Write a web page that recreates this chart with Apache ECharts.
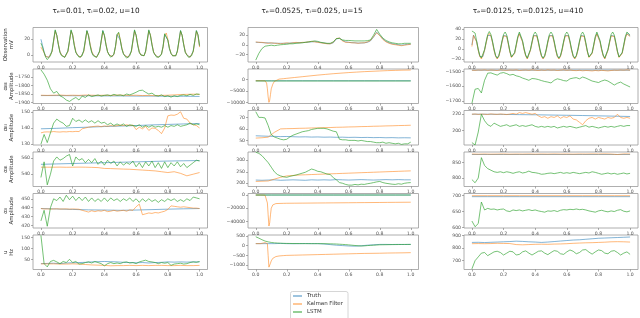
<!DOCTYPE html>
<html><head><meta charset="utf-8">
<script src="https://cdn.jsdelivr.net/npm/echarts@6/dist/echarts.min.js"></script>
<style>html,body{margin:0;padding:0;background:#fff}#c{width:640px;height:318px}</style>
</head><body><div id="c"></div><script>
// ---------------- data ----------------
const xTicks = [0, 0.2, 0.4, 0.6, 0.8, 1.0];
const seriesNames = ['Truth', 'Kalman Filter', 'LSTM'];
const colTitles = ['τₑ=0.01, τᵢ=0.02, u=10', 'τₑ=0.0525, τᵢ=0.025, u=15', 'τₑ=0.0125, τᵢ=0.0125, u=410'];
const rowLabels = ['{a|Observation}\n{a|mV}', '{g|α}{s|EE}\n{a|Amplitude}', '{g|α}{s|EI}\n{a|Amplitude}', '{g|α}{s|IE}\n{a|Amplitude}', '{g|α}{s|II}\n{a|Amplitude}', '{a|u}\n{a|Hz}'];
// sample times for the sharp dip in the Kalman Filter estimates (column 2)
const tDip = [0,0.03,0.06,0.07,0.075,0.08,0.085,0.09,0.095,0.1,0.11,0.12,0.13,0.15,0.18,0.2,0.25,0.3,0.35,0.4,0.45,0.5,0.55,0.6,0.65,0.7,0.75,0.8,0.85,0.9,0.95,1.0];

// column 1
const c1r1T = [20,12,4,-2,-4, -3,-1,5,18,31,25,13,4,0,-2, -3,-1,5,18,31,25,13,4,0,-2, -3,-1,5,18,31,25,13,4,0,-2, -3,-1,5,18,31,25,13,4,0,-2, -2,1,11,26,28,19,8,2,-1,-3, -3,-1,5,18,31,25,13,4,0,-2, -1,5,18,31,25,13,4,0,-2,-3, -2,1,11,26,28,19,8,2,-1,-3, -1,5,18,31,25,13,4,0,-2, -3,-1,5,18,31,25,11];
const c1r1K = [10,8,3,-2,-4, -3,-1,4,17,30,25,14,4,0,-2, -3,-1,4,17,30,26,14,4,0,-2, -3,-1,4,17,30,25,14,5,0,-2, -3,-1,4,17,29,25,14,4,0,-2, -2,1,10,25,28,20,9,2,-1,-3, -3,-1,4,17,30,25,14,4,0,-2, -1,4,17,30,26,14,4,0,-2,-3, -2,1,10,25,28,20,9,2,-1,-3, -1,4,17,30,25,14,4,0,-2, -3,-1,4,17,30,25,10];
const c1r1L = [15,10,3,-3,-6, -4,-1,5,19,32,25,13,3,-1,-3, -3,-1,5,18,32,25,12,3,0,-3, -3,-1,6,19,31,24,12,3,-1,-3, -3,0,5,18,31,25,13,4,0,-3, -2,1,11,26,29,19,8,1,-1,-4, -3,-1,5,19,32,25,12,3,0,-2, -1,5,19,32,25,13,3,0,-3,-4, -2,1,11,27,29,19,8,2,-1,-3, -1,5,18,31,25,13,3,0,-3, -4,-1,5,18,31,26,12];

const c1r2T = [-1859,-1859,-1860,-1860,-1861,-1861,-1862,-1862,-1863,-1863,-1864];
const c1r2K = [-1857,-1858,-1857,-1856,-1858,-1857,-1858,-1856,-1857,-1858,-1857,-1858,-1856,-1857,-1858,-1857,-1859,-1858,-1860,-1858,-1857,-1855,-1853,-1852,-1851,-1852];
const c1r2L = [-1710,-1735,-1770,-1820,-1845,-1835,-1860,-1870,-1885,-1893,-1880,-1870,-1885,-1862,-1870,-1855,-1865,-1860,-1855,-1862,-1858,-1855,-1860,-1852,-1858,-1855,-1860,-1850,-1855,-1848,-1840,-1830,-1828,-1840,-1850,-1845,-1858,-1862,-1855,-1865,-1860,-1868,-1860,-1865,-1858,-1855,-1860,-1852,-1858,-1850,-1852];

const c1r3T = [139.5,139.8,140.2,140.5,140.9,141.2,141.5,141.9,142.2,142.5,142.8];
const c1r3K = [137,137.5,137.6,137.5,137.8,137.6,137.5,137.7,137.6,137.8,137.7,137.9,137.8,139.5,140,140.5,140.8,141,141.2,140.8,141.3,141,141.5,141.2,141.4,141.8,141.5,142,141.5,141.8,139,140.5,139.5,141,138.5,140,139.8,138.5,136.5,140,147.5,148,147.8,148.5,150,146,145.5,143,142,141.5,140];
const c1r3L = [130,136,131,137,143,145.5,144,143,141,141.5,146,144,145,143.5,145,143.5,144.5,143,144.5,143,143.5,142,143,141.5,142.5,141.5,142.5,141,142,141.5,141,142,140.5,141.5,140.5,141.5,140.5,141,140.5,141.5,140.5,141.5,141,142,141,141.5,142,143,142,142.5,142];

const c1r4T = [552,552.5,553,553.5,554,554.5,555,555.5,556,556.3,556.6];
const c1r4K = [548.5,548.5,548.5,548.6,548.4,548.5,548.6,548.5,548.3,548,547,546.8,546.5,546.2,546,545.5,545,544.5,544,543,542,543,541,538,540,542];
const c1r4L = [536,555,527,540,556,561,557,559,562,564,550,561,557,559,554,558,554,559,552,556,551,557,553,556,550,555,551,554,552,556,549,554,548,555,550,556,548,554,547,555,548,554,550,555,549,553,548,551,554,557,556];

const c1r5T = [439,438.5,438,437.5,437.3,437,437.3,437.8,438.3,438.7,439];
const c1r5K = [439,438.5,438.6,438.4,438.5,438.7,438.4,438.5,438.6,438.3,438.5,438.4,438.2,437,436,435,436.5,435.5,436.5,436,437,435.5,436,437,436,436.5,437,436,437.5,437,441,444,432,433,434,433.5,434.5,434,435,436,438,442,441.5,441,440.5,441,440.5,440,439.5,439.5,439];
const c1r5L = [425,437,419,440,450,448,452,447,454,449,453,448,452,448,452,447,451,447,450,447,451,447,451,448,450,447,450,448,451,447,450,446,450,447,450,447,449,446,449,447,450,448,450,447,449,447,450,448,452,451,450];

const c1r6T = [30,31,32,30,33,34,35,36,38,39,40,39,38,36,35,34,35,33,35,36,38,37,38,37,38,38];
const c1r6K = [29,29,29,28,28,29,28,26,24,23,22,20,21,21,22,21,22,21,22,22,21,21,22,21,21,22];
const c1r6L = [160,30,15,40,45,38,30,40,35,50,35,40,28,30,35,38,33,40,35,30,20,30,35,30,33,30,36,38,33,35,30,38,42,46,40,38,35,30,35,32,35,22,28,30,32,28,30,35,38,36,40];

// column 2
const c2r1T = [5,5,4.5,4,4,3.5,3.5,3,3,3,3,3.5,4,4,4.5,4.5,5,5.5,6,6.5,5.5,4.5,3.5,2.5,2,4,12,14,9,6,5,4.5,4,3.5,3.5,4,5,8,16,26,20,12,7,4,2,1,0,-1,0,1,1];
const c2r1K = [6,5,5,4,3,4,3,3,2,3,4,3,4,5,4,5,5,6,7,6,5,4,3,2,2,5,13,14,8,5,5,4,4,3,4,4,6,9,17,25,19,11,6,3,1,0,-1,-2,-1,0,1];
const c2r1L = [-32,-18,-8,-3,-2,-1,-2,-1,0,0.5,1,2,2,3,3.5,4,5,6,7,8,7,5,4,3,3,6,13,13,10,9,9,8.5,8,8,8,8,8.5,10,20,32,22,14,9,6,4,3,2,2,3,3,3];

const c2r2T = [-520,-520,-520,-520,-520,-520,-520,-520,-520,-520,-520];
const c2r2K = [-500,-500,-550,-1500,-4000,-7500,-9900,-9000,-6500,-4000,-2000,-800,-200,200,400,550,900,1250,1600,1950,2250,2550,2800,3050,3250,3450,3600,3750,3900,4000,4100,4150];
const c2r2L = [-600,-600,-600,-600,-600,-600,-600,-600,-600,-600,-600];

const c2r3T = [54,53.8,53.6,53.5,53.3,53.4,53.2,53,53.1,52.9,53,52.8,52.9,52.7,52.8,52.6,52.7,52.5,52.6,52.4,52.5,52.3,52.4,52.2,52.3,52.2];
const c2r3K = [52,52.3,52.8,57,60,60.2,60.3,60.5,60.6,60.8,60.9,61.1,61.2,61.4,61.5,61.7,61.8,62,62.1,62.3,62.4,62.6,62.7,62.9,63,63.2];
const c2r3L = [75,70,70,69.5,63,55,53,52,51,50.5,51,53,54.5,55.5,56.5,57.5,58,58.5,59.5,60,60.5,60.5,60.5,60,59,58,57.5,51,50.5,50.5,50,50,50,49.5,50,49.5,49,49,48.5,48,48,48.5,47.5,48,47.5,47,47.5,46.5,47,47,48.5];

const c2r4T = [214,213,214,215,213,214,215,214,213,215,214,215,214,216,215,214,215,216,215,214,215,216,215,216,215,215];
const c2r4K = [208,209,210,218,226,232,234,236,237,238,239,240,241,242,243,244,245,246,247,248,249,250,251,252,253,254];
const c2r4L = [335,330,320,305,290,270,250,238,232,228,226,230,233,236,240,244,248,255,262,258,252,250,245,240,238,225,215,203,200,195,192,192,195,193,196,195,198,200,203,206,208,203,200,198,196,195,198,196,200,202,203];

const c2r5T = [0,0,0,0,0,0,0,0,0,0,0];
const c2r5K = [0,0,-200,-3000,-12000,-30000,-47000,-42000,-30000,-20000,-15000,-13500,-13000,-12800,-12600,-12500,-12400,-12300,-12200,-12100,-12000,-11900,-11800,-11700,-11600,-11500,-11400,-11300,-11200,-11100,-11000,-10900];
const c2r5L = [0,0,0,0,0,0,0,0,0,0,0];

const c2r6T = [100,100,100,100,110,100,95,100,105,100,100,80,50,20,0,-20,-30,-10,20,40,60,60,55,60,55,60];
const c2r6K = [100,100,150,200,100,-500,-1100,-1050,-900,-780,-650,-600,-560,-530,-510,-500,-490,-480,-470,-460,-450,-440,-430,-420,-410,-400,-395,-390,-380,-375,-370,-360];
const c2r6L = [450,380,300,230,190,160,140,130,120,115,110,108,105,104,102,101,100,100,100,99,100,100,98,95,90,85,80,70,60,50,35,20,5,-10,-20,-15,0,10,20,30,40,42,45,48,50,52,54,56,58,59,60];

// column 3
const c3r1T = [8,28,30,15,-2,-15,-19,-15,-2,13,27, 31,27,14,-2,-14,-19,-14,-2,14,27, 31,26,11,-5,-16,-18,-8,7,23,31, 28,15,-1,-13,-19,-15,-2,13,27,31, 27,14,-2,-14,-19,-14,-2,14,27,31, 27,14,-2,-14,-19,-14,-2,14,27,31, 27,14,-2,-14,-19,-14,-2,14,27,31, 26,11,-5,-16,-18,-8,7,23,31, 28,15,-1,-13,-19,-15,-2,13,27,31, 26,11,-5,-16,-18,-8,7,23,31, 30,26];
const c3r1K = [5,27,29,14,-3,-15,-20,-16,-3,12,26, 31,26,13,-3,-15,-20,-15,-3,13,26, 30,25,10,-6,-17,-19,-9,6,22,30, 27,14,-2,-14,-20,-16,-3,12,26,30, 26,13,-3,-15,-20,-15,-3,13,26,30, 26,13,-3,-15,-20,-15,-3,13,26,30, 26,13,-3,-15,-20,-15,-3,13,26,30, 25,10,-6,-17,-19,-9,6,22,30, 27,14,-2,-14,-20,-16,-3,12,26,30, 25,10,-6,-17,-19,-9,6,22,30, 29,25];
const c3r1L = [36,39,32,16,0,-13,-18,-14,-1,15,29, 35,29,16,0,-13,-18,-13,0,16,29, 34,28,13,-4,-16,-17,-7,9,25,34, 30,17,1,-12,-18,-14,-1,15,29,34, 29,16,0,-13,-18,-13,0,16,29,34, 29,16,0,-13,-18,-13,0,16,29,34, 29,16,0,-13,-18,-13,0,16,29,34, 28,13,-4,-16,-17,-7,9,25,34, 30,17,1,-12,-18,-14,-1,15,29,34, 28,13,-4,-16,-17,-7,9,25,34, 33,28];

const c3r2T = [-1492,-1492,-1492,-1492,-1492,-1492,-1492,-1492,-1492,-1492,-1492];
const c3r2K = [-1492,-1493,-1491,-1492,-1490,-1493,-1491,-1492,-1494,-1490,-1492,-1493,-1491,-1492,-1490,-1494,-1492,-1491,-1493,-1490,-1492,-1494,-1491,-1493,-1490,-1492,-1491,-1494,-1492,-1490,-1493,-1491,-1494,-1495,-1493,-1496,-1494,-1495,-1497,-1494,-1496,-1493,-1495,-1497,-1494,-1492,-1493,-1491,-1492,-1490,-1492];
const c3r2L = [-1715,-1620,-1615,-1645,-1560,-1512,-1510,-1518,-1525,-1512,-1508,-1515,-1525,-1520,-1530,-1535,-1545,-1552,-1560,-1548,-1550,-1555,-1562,-1568,-1572,-1578,-1560,-1550,-1555,-1562,-1565,-1550,-1545,-1542,-1550,-1538,-1545,-1555,-1565,-1570,-1575,-1565,-1558,-1565,-1578,-1592,-1580,-1572,-1585,-1595,-1605];

const c3r3T = [220,220,219.8,219.5,219.3,219,218.7,218.4,218,217.6,217.2];
const c3r3K = [220,220.3,219.8,220.2,220,219.7,220.4,220,219.8,220.3,220,219.6,220.2,221,220,222,221,222,221,220,221,218,216,217,215,217,216,218,215,217,216,218,214,213,210,207,212,215,216,214,216,215,214,216,215,216,220,216,215,216,215];
const c3r3L = [185,182,198,220,212,207,205,209,207,205,206,207,205,206,207,205,206,205,206,207,205,204,205,204,205,204,205,203,204,205,204,205,204,203,204,205,206,204,205,204,203,204,205,204,205,204,205,206,205,206,206];

const c3r4T = [875,875,875,875,875,875,875,875,875,875,875];
const c3r4K = [876.5,876,876.5,876,876.3,876.6,876,876.4,876.2,876.6,876,876.5,876.2,876.7,876.3,876.5,876.1,876.6,876.4,876.8,876.5,876.9,876.4,875,876.8,876.6];
const c3r4L = [795,785,800,865,840,830,825,820,818,820,817,820,818,815,818,820,816,818,822,818,817,815,812,813,815,816,814,816,818,815,817,815,818,816,814,816,818,816,820,818,815,812,814,816,813,815,812,814,816,813,815];

const c3r5T = [697,697,697,697,697,697,697,697,697,697,697];
const c3r5K = [700,700,700,700,700,700,700,700,700,700,700];
const c3r5L = [620,602,612,680,655,660,657,658,655,657,658,652,650,655,653,655,652,654,656,653,655,652,650,648,652,651,653,650,654,656,655,657,656,658,656,657,655,652,650,648,652,654,651,649,652,650,654,656,651,649,652];

const c3r6T = [845,846,844,846,848,850,852,855,853,850,848,845,848,852,856,860,864,866,870,874,878,880,882,884,886,888];
const c3r6K = [835,836,835,836,838,837,836,828,826,828,830,831,830,832,833,835,838,840,842,843,845,847,850,851,850,848];
const c3r6L = [635,700,730,760,765,740,755,770,775,765,745,760,775,770,745,750,770,778,760,745,760,775,778,760,748,765,780,775,755,750,770,785,775,755,765,785,788,768,752,770,785,780,760,755,775,780,765,745,760,770,750];

// y-axis ranges and tick labels per panel
const panels = [
  {c:0,r:0,T:c1r1T,K:c1r1K,L:c1r1L,min:-9,max:35,ticks:[0,20]},
  {c:0,r:1,T:c1r2T,K:c1r2K,L:c1r2L,min:-1905,max:-1705,ticks:[-1900,-1850,-1800,-1750]},
  {c:0,r:2,T:c1r3T,K:c1r3K,L:c1r3L,min:129.5,max:150.8,ticks:[130,140,150]},
  {c:0,r:3,T:c1r4T,K:c1r4K,L:c1r4L,min:525,max:567,ticks:[540,560]},
  {c:0,r:4,T:c1r5T,K:c1r5K,L:c1r5L,min:417,max:456,ticks:[420,430,440,450]},
  {c:0,r:5,T:c1r6T,K:c1r6K,L:c1r6L,min:3,max:162,ticks:[50,100,150]},
  {c:1,r:0,T:c2r1T,K:c2r1K,L:c2r1L,min:-36,max:36,ticks:[-20,0,20]},
  {c:1,r:1,T:c2r2T,K:c2r2K,Kx:tDip,L:c2r2L,min:-10400,max:4600,ticks:[-10000,-5000,0]},
  {c:1,r:2,T:c2r3T,K:c2r3K,L:c2r3L,min:46,max:76,ticks:[50,60,70]},
  {c:1,r:3,T:c2r4T,K:c2r4K,L:c2r4L,min:186,max:336,ticks:[200,250,300]},
  {c:1,r:4,T:c2r5T,K:c2r5K,Kx:tDip,L:c2r5L,min:-50000,max:2300,ticks:[-40000,-20000,0]},
  {c:1,r:5,T:c2r6T,K:c2r6K,Kx:tDip,L:c2r6L,min:-1220,max:540,ticks:[-1000,-500,0,500]},
  {c:2,r:0,T:c3r1T,K:c3r1K,L:c3r1L,min:-26,max:43,ticks:[-20,0,20,40]},
  {c:2,r:1,T:c3r2T,K:c3r2K,L:c3r2L,min:-1716,max:-1484,ticks:[-1700,-1600,-1500]},
  {c:2,r:2,T:c3r3T,K:c3r3K,L:c3r3L,min:182,max:224.6,ticks:[200,220]},
  {c:2,r:3,T:c3r4T,K:c3r4K,L:c3r4L,min:773,max:883,ticks:[800,850]},
  {c:2,r:4,T:c3r5T,K:c3r5K,L:c3r5L,min:598,max:707,ticks:[600,650,700]},
  {c:2,r:5,T:c3r6T,K:c3r6K,L:c3r6L,min:630,max:904,ticks:[700,800,900]}
];

// ---------------- layout & style ----------------
const colL = [33, 248, 464], colW = [174.5, 170.5, 174];
const rowT = [27.5, 69, 110.5, 152, 193.5, 235], rowH = 34.5;
const titleX = [96, 312, 528];
const colors = ['rgba(31,119,180,0.62)', 'rgba(255,127,14,0.62)', 'rgba(44,160,44,0.72)'];
const FONT = 'DejaVu Sans';
const fmt = v => String(v).replace('-', '\u2212');

const grid = [], xAxis = [], yAxis = [], series = [];
panels.forEach((p, i) => {
  grid.push({left: colL[p.c], top: rowT[p.r], width: colW[p.c], height: rowH,
    show: true, borderColor: '#9a9a9a', borderWidth: 0.8, backgroundColor: 'transparent'});
  xAxis.push({type: 'value', gridIndex: i, min: -0.05, max: 1.05, position: 'bottom',
    axisLine: {show: false, onZero: false}, splitLine: {show: false},
    axisTick: {show: true, length: 2, customValues: xTicks, lineStyle: {color: '#777', width: 0.6}},
    axisLabel: {customValues: xTicks, fontSize: 4.6, color: '#555', margin: 3, fontFamily: FONT,
      formatter: v => v.toFixed(1)}});
  yAxis.push({type: 'value', gridIndex: i, min: p.min, max: p.max, position: 'left',
    axisLine: {show: false, onZero: false}, splitLine: {show: false},
    axisTick: {show: true, length: 2, customValues: p.ticks, lineStyle: {color: '#777', width: 0.6}},
    axisLabel: {customValues: p.ticks, fontSize: 4.6, color: '#555', margin: 3, fontFamily: FONT, formatter: fmt}});
  [[p.T, p.Tx], [p.K, p.Kx], [p.L, p.Lx]].forEach((d, k) => {
    const ys = d[0], xs = d[1];
    series.push({type: 'line', name: seriesNames[k], xAxisIndex: i, yAxisIndex: i,
      showSymbol: false, symbol: 'none', silent: true,
      lineStyle: {width: 0.9, color: colors[k]}, itemStyle: {color: colors[k]},
      data: ys.map((v, j) => [xs ? xs[j] : j / (ys.length - 1), v])});
  });
});

const title = colTitles.map((t, c) => ({text: t, left: titleX[c], top: 8, textAlign: 'center', padding: 0,
  textStyle: {fontSize: 7.3, fontWeight: 'normal', color: '#222', fontFamily: FONT}}));

const graphic = rowLabels.map((t, r) => ({type: 'text', x: 8.5, y: rowT[r] + rowH / 2, rotation: Math.PI / 2, silent: true,
  style: {text: t, align: 'center', verticalAlign: 'middle', fill: '#333', fontFamily: FONT, fontSize: 5.4, lineHeight: 6.5,
    rich: {a: {fontSize: 5.4, fontFamily: FONT, fill: '#333'}, g: {fontSize: 5.6, fontFamily: FONT, fill: '#333'}, s: {fontSize: 3.8, fontFamily: FONT, fill: '#333', verticalAlign: 'bottom'}}}}));
// legend frame
graphic.push({type: 'rect', z: 0, silent: true, shape: {x: 290.5, y: 291.5, width: 57.5, height: 40, r: 2},
  style: {fill: '#fff', stroke: '#cccccc', lineWidth: 0.8}});

const legend = seriesNames.map((n, k) => ({data: [n], left: 293, top: 293 + k * 8, icon: 'rect', itemWidth: 9, itemHeight: 1.4,
  padding: 0, z: 10, textStyle: {fontSize: 5.5, color: '#333', fontFamily: FONT}}));

const chart = echarts.init(document.getElementById('c'), null, {renderer: 'canvas'});
chart.setOption({
  animation: false, backgroundColor: '#fff',
  title, grid, xAxis, yAxis, series, graphic, legend
});
</script></body></html>
